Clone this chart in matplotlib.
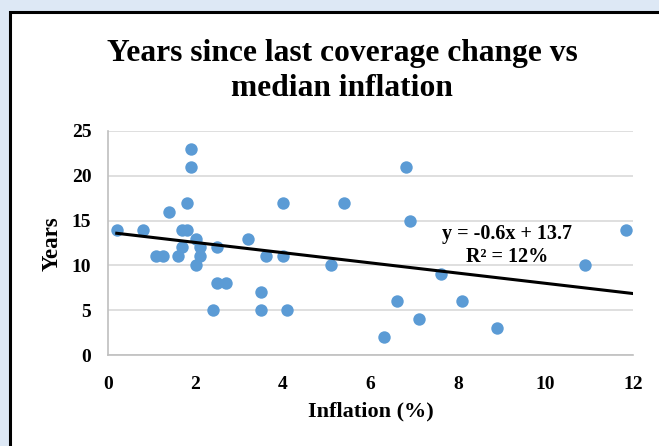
import matplotlib
matplotlib.use("Agg")
import matplotlib.pyplot as plt
import matplotlib.patches as patches
import numpy as np

# inflation (%) and years since last coverage change
inflation = [0.2, 0.8, 1.1, 1.25, 1.4, 1.6, 1.7, 1.7, 1.8, 1.8, 1.9, 1.9,
             2.0, 2.0, 2.1, 2.1, 2.5, 2.5, 2.7, 2.4, 3.2, 3.5, 3.5, 3.6,
             4.0, 4.0, 4.1, 5.1, 5.4, 6.8, 6.9, 6.6, 6.3, 7.1, 7.6, 8.1,
             8.9, 10.9, 11.85]
years = [14, 14, 11, 11, 16, 11, 12, 14, 14, 17, 23, 21,
         13, 10, 12, 11, 12, 8, 8, 5, 13, 7, 5, 11,
         17, 11, 5, 10, 17, 21, 15, 6, 2, 4, 9, 6,
         3, 10, 14]

trend_slope = -0.57
trend_intercept = 13.7
trend_label = "y = -0.6x + 13.7\nR² = 12%"

x_ticks = [0, 2, 4, 6, 8, 10, 12]
y_ticks = [0, 5, 10, 15, 20, 25]

serif = ["Liberation Serif", "DejaVu Serif"]

fig = plt.figure(figsize=(6.59, 4.46), dpi=100)
fig.patch.set_facecolor("#dde8f5")

# white panel with black frame
W, H = 659.0, 446.0
frame = patches.Rectangle((9.5 / W, -0.1), 1.2, 1.1 - 11.5 / H, transform=fig.transFigure,
                          facecolor="white", edgecolor="black", linewidth=2.2,
                          zorder=-5)
fig.patches.append(frame)

ax = fig.add_axes([108 / W, 1 - 355 / H, (633 - 108) / W, (355 - 131) / H])
ax.set_zorder(2)
ax.set_facecolor("none")

ax.scatter(inflation, years, s=80, color="#5b9bd5", zorder=3, linewidths=0)

tx = np.array([min(inflation), 12])
ax.plot(tx, trend_slope * tx + trend_intercept, color="black", lw=2.2, zorder=4)

ax.text(9.12, 12.2, trend_label, ha="center", va="center", fontsize=14.5,
        fontweight="bold", family=serif, linespacing=1.2)

ax.set_xlim(0, 12)
ax.set_ylim(0, 25)
ax.set_xticks(x_ticks)
ax.set_yticks(y_ticks)
ax.grid(axis="y", color="#d9d9d9", lw=1.2)
ax.set_axisbelow(True)
for s in ["top", "right"]:
    ax.spines[s].set_visible(False)
for s in ["left", "bottom"]:
    ax.spines[s].set_color("#bfbfbf")
    ax.spines[s].set_linewidth(1.2)
ax.tick_params(length=0)
ax.tick_params(axis="x", pad=15)
ax.tick_params(axis="y", pad=12)
for lab in ax.get_xticklabels() + ax.get_yticklabels():
    lab.set_fontfamily(serif)
    lab.set_fontweight("bold")
    lab.set_fontsize(14)

ax.set_xlabel("Inflation (%)", fontsize=16, fontweight="bold", family=serif)
ax.set_ylabel("Years", fontsize=16.5, fontweight="bold", family=serif)
ax.xaxis.label.set_va("center")
ax.yaxis.label.set_va("center")
ax.xaxis.set_label_coords(0.5, -0.254)
ax.yaxis.set_label_coords(-0.107, 0.495)

fig.text(342 / W, 1 - 71 / H, "Years since last coverage change vs\nmedian inflation",
         ha="center", va="center", fontsize=22.7, fontweight="bold", family=serif,
         linespacing=1.28)

fig.savefig("out.png", dpi=100, facecolor=fig.get_facecolor())
